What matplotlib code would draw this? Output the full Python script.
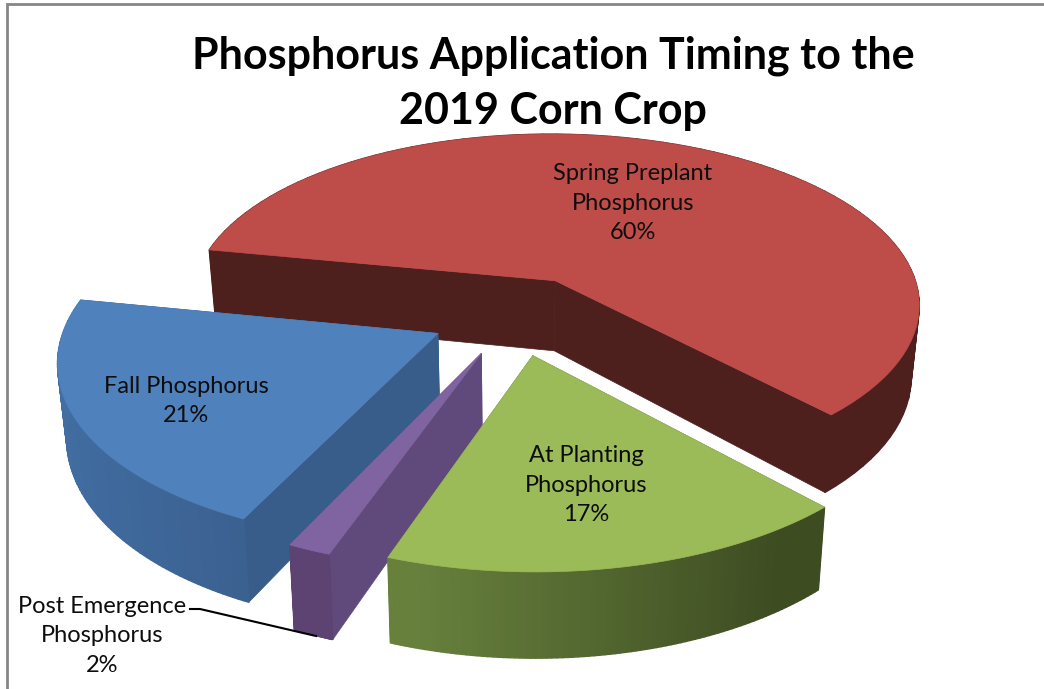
import numpy as np
import matplotlib
matplotlib.use("Agg")
import matplotlib.pyplot as plt
from matplotlib.patches import Polygon
from matplotlib.colors import to_rgb

plt.rcParams['font.family'] = ['Lato', 'DejaVu Sans']

title = "Phosphorus Application Timing to the\n2019 Corn Crop"
categories = ["Spring Preplant\nPhosphorus", "At Planting\nPhosphorus", "Post Emergence\nPhosphorus", "Fall Phosphorus"]
values = [60.0, 17.4, 1.6, 21.0]

top_colors = ["#BE4D4A", "#9BBB59", "#8064A2", "#4F81BD"]
face_colors = ["#4D1F1D", "#4F6230", "#604A7B", "#385D8A"]
wall_left = ["#4D1F1D", "#67813D", "#5E4673", "#426EA3"]
wall_right = ["#4D1F1D", "#3E4C22", "#5C4372", "#3A5F8E"]
label_pos = [(633, 203), (586, 485), (102, 636), (186, 401)]

# view of the pie, in pixels
cx, cy = 515, 315
rx, ry = 370, 175
persp = 0.135
depth = 72
explode = 0.23
start = 281


def project(u, v, z=0):
    w = 1 / (1 + persp * v)
    return cx + rx * u * w * (1 - 0.02 * z), cy - ry * v * w + depth * w * z


def lerp(c1, c2, t):
    a, b = np.array(to_rgb(c1)), np.array(to_rgb(c2))
    return tuple(a + (b - a) * t)


fig = plt.figure(figsize=(10.44, 6.89), dpi=100)
ax = fig.add_axes([0, 0, 1, 1])
ax.set_xlim(0, 1044)
ax.set_ylim(689, 0)
ax.axis('off')

# chart frame
ax.plot([7, 7, 1044], [689, 4, 4], color="#868686", lw=2, solid_joinstyle='miter')

angles = start + np.concatenate([[0], np.cumsum(values)]) * 3.6
slices = []
for i in range(len(values)):
    slices.append((i, angles[i], angles[i + 1]))

# back to front: red, blue, purple, green
for i, a0, a1 in [slices[0], slices[3], slices[2], slices[1]]:
    mid = np.radians((a0 + a1) / 2)
    ou, ov = explode * np.sin(mid), explode * np.cos(mid)
    th = np.radians(np.linspace(a0, a1, 90))
    us, vs = ou + np.sin(th), ov + np.cos(th)

    # cut faces
    for k in [0, -1]:
        pts = [project(ou, ov), project(us[k], vs[k]), project(us[k], vs[k], 1), project(ou, ov, 1)]
        ax.add_patch(Polygon(pts, fc=face_colors[i], ec=face_colors[i], lw=0.5))

    # outer wall, shaded left to right
    for j in range(len(th) - 1):
        pts = [project(us[j], vs[j]), project(us[j + 1], vs[j + 1]),
               project(us[j + 1], vs[j + 1], 1), project(us[j], vs[j], 1)]
        t = (np.sin(th[j]) + 1) / 2
        if i == 1:
            t = np.clip((np.sin(th[j]) + 0.28) / 0.85, 0, 1)
        elif i == 3:
            t = np.clip((np.sin(th[j]) + 1) / 0.65, 0, 1)
        c = lerp(wall_left[i], wall_right[i], t)
        ax.add_patch(Polygon(pts, fc=c, ec=c, lw=1))

    # top
    if i == 2:
        # front of the thin slice
        pts = [project(us[0], vs[0]), project(us[-1], vs[-1]), project(us[-1], vs[-1], 1), project(us[0], vs[0], 1)]
        ax.add_patch(Polygon(pts, fc=wall_right[i], ec=wall_right[i], lw=0.5))
    top = [project(ou, ov)] + [project(u, v) for u, v in zip(us, vs)]
    ax.add_patch(Polygon(top, fc=top_colors[i], ec=top_colors[i], lw=0.5))

# labels
for name, val, (x, y) in zip(categories, values, label_pos):
    ax.text(x, y, f"{name}\n{round(val)}%", ha='center', va='center', fontsize=17,
            color="#0d0d0d", linespacing=1.5)

# leader line of the small slice
ax.plot([190, 200, 316], [609, 609, 636], color="black", lw=1.5)

ax.text(553, 83, title, ha='center', va='center', fontsize=31, fontweight='bold',
        color="black", linespacing=1.45)

fig.savefig("out.png", dpi=100)
